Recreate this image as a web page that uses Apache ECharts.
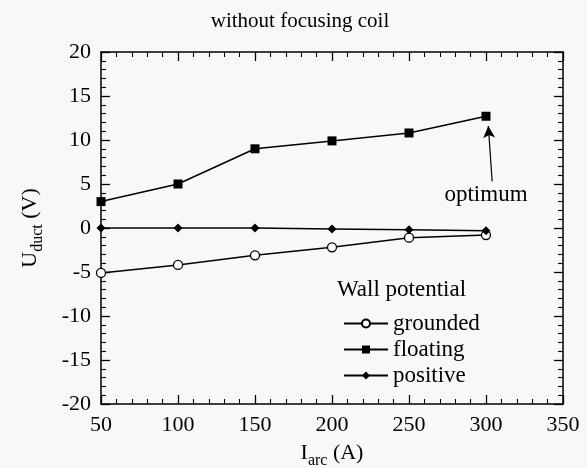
<!DOCTYPE html>
<html><head><meta charset="utf-8">
<script src="https://cdn.jsdelivr.net/npm/echarts@6/dist/echarts.min.js"></script>
<style>html,body{margin:0;padding:0;background:#f7f8f7}#c{width:587px;height:468px}</style>
</head><body><div id="c"></div>
<script>
var categories = [50, 100, 150, 200, 250, 300];
var grounded = [-5.1, -4.2, -3.1, -2.2, -1.1, -0.8];
var floating = [3.0, 5.0, 9.0, 9.9, 10.8, 12.7];
var positive = [0.0, 0.0, 0.0, -0.1, -0.2, -0.3];
var xTicks = [50, 100, 150, 200, 250, 300, 350];
var yTicks = [-20, -15, -10, -5, 0, 5, 10, 15, 20];
var arrowFrom = [304, 5.3];
var arrowTo = [301.5, 11.6];
var annotationAt = [300, 3.8];

var F = '"Liberation Serif", "DejaVu Serif", serif';
function pairs(v){ return categories.map(function(c,i){ return [c, v[i]]; }); }
var chart = echarts.init(document.getElementById('c'));
var baseX = { type:'value', min:xTicks[0], max:xTicks[xTicks.length-1], interval:50,
  axisLine:{show:true, onZero:false, lineStyle:{color:'#000', width:1.5}},
  axisTick:{show:true, inside:true, length:9, lineStyle:{color:'#000', width:1.3}},
  minorTick:{show:true, splitNumber:5, length:5, lineStyle:{color:'#000', width:1.1}},
  splitLine:{show:false} };
var baseY = { type:'value', min:yTicks[0], max:yTicks[yTicks.length-1], interval:5,
  axisLine:{show:true, onZero:false, lineStyle:{color:'#000', width:1.5}},
  axisTick:{show:true, inside:true, length:9, lineStyle:{color:'#000', width:1.3}},
  minorTick:{show:true, splitNumber:5, length:5, lineStyle:{color:'#000', width:1.1}},
  splitLine:{show:false} };
function ext(a,b){ return Object.assign({}, a, b); }
var option = {
  backgroundColor:'#f7f8f7',
  animation:false,
  title:{ text:'without focusing coil', left:295, textAlign:'center', top:6,
    textStyle:{ fontFamily:F, fontSize:21, fontWeight:'normal', color:'#000'} },
  grid:{ left:101, right:24, top:52, bottom:64, containLabel:false, outerBoundsMode:'none' },
  xAxis:[
    ext(baseX, { position:'bottom',
      axisLabel:{ fontFamily:F, fontSize:22, color:'#000', margin:10 },
      name:'{m|I}{s|arc}{m| (A)}', nameLocation:'middle', nameGap:33,
      nameTextStyle:{ rich:{ m:{fontFamily:F, fontSize:22, color:'#000'},
        s:{fontFamily:F, fontSize:16, color:'#000', padding:[16,0,0,0]} } } }),
    ext(baseX, { position:'top', axisLabel:{show:false} })
  ],
  yAxis:[
    ext(baseY, { position:'left',
      axisLabel:{ fontFamily:F, fontSize:22, color:'#000', margin:10 },
      name:'{m|U}{s|duct}{m| (V)}', nameLocation:'middle', nameGap:55, nameRotate:90,
      nameTextStyle:{ rich:{ m:{fontFamily:F, fontSize:22, color:'#000'},
        s:{fontFamily:F, fontSize:16, color:'#000', padding:[16,0,0,0]} } } }),
    ext(baseY, { position:'right', axisLabel:{show:false} })
  ],
  legend:{ orient:'vertical', left:338, top:307, itemWidth:44, itemHeight:10, itemGap:3,
    textStyle:{ fontFamily:F, fontSize:23, color:'#000' },
    data:['grounded','floating','positive'] },
  series:[
    { name:'grounded', type:'line', data:pairs(grounded), symbol:'circle', symbolSize:9,
      itemStyle:{ color:'#fff', borderColor:'#000', borderWidth:1.3 },
      lineStyle:{ color:'#000', width:1.5 }, z:3 },
    { name:'floating', type:'line', data:pairs(floating), symbol:'rect', symbolSize:9,
      itemStyle:{ color:'#000' }, lineStyle:{ color:'#000', width:1.5 },
      markLine:{ silent:true, symbol:['none','arrow'], symbolSize:[9,12],
        lineStyle:{ color:'#000', width:1.2, type:'solid' }, label:{show:false},
        data:[[ {coord:arrowFrom}, {coord:arrowTo} ]] } },
    { name:'positive', type:'line', data:pairs(positive), symbol:'diamond', symbolSize:9,
      itemStyle:{ color:'#000' }, lineStyle:{ color:'#000', width:1.5 } }
  ]
};
chart.setOption(option);
var p = chart.convertToPixel({xAxisIndex:0, yAxisIndex:0}, annotationAt);
chart.setOption({ graphic:[
  { type:'text', x:p[0], y:p[1], style:{ text:'optimum', fontFamily:F, fontSize:23, fill:'#000',
    textAlign:'center', textVerticalAlign:'middle' } },
  { type:'text', x:337, y:290, style:{ text:'Wall potential', fontFamily:F, fontSize:23, fill:'#000',
    textAlign:'left', textVerticalAlign:'middle' } }
]});
</script></body></html>
